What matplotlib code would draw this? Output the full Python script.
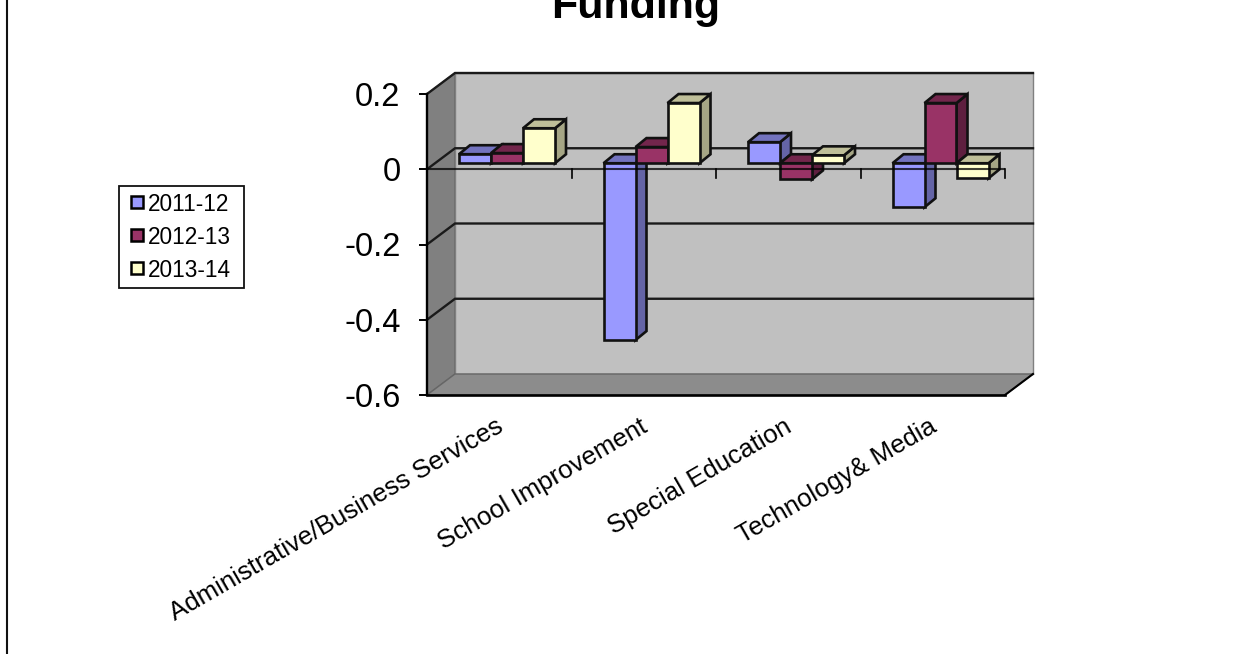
# Funding change by department, drawn as a pseudo-3D clustered column chart
import matplotlib
matplotlib.use("Agg")
import numpy as np
from matplotlib import pyplot as plt
from matplotlib.patches import Polygon, Rectangle

plt.rcParams['font.family'] = ['Liberation Sans', 'DejaVu Sans']

categories = ["Administrative/Business Services", "School Improvement",
              "Special Education", "Technology& Media"]
series = ["2011-12", "2012-13", "2013-14"]
val_2011 = [0.024, -0.47, 0.056, -0.117]
val_2012 = [0.027, 0.043, -0.043, 0.16]
val_2013 = [0.093, 0.16, 0.021, -0.04]
y_ticks = [0.2, 0, -0.2, -0.4, -0.6]
y_labels = ["0.2", "0", "-0.2", "-0.4", "-0.6"]

front_cols = ["#9999ff", "#993366", "#ffffcc"]
top_cols = ["#7373bf", "#73264c", "#bfbf99"]
side_cols = ["#6464a6", "#5e1f3f", "#a6a685"]

W, H = 1254, 654
fig = plt.figure(figsize=(W / 100, H / 100), dpi=100)

# axes box in pixels: x 427-1005, y 94-395
ax = fig.add_axes([427 / W, 1 - 395 / H, 578 / W, 301 / H])
ax.set_xlim(0, 4)
ax.set_ylim(-0.6, 0.2)
ax.patch.set_alpha(0)
for s in ax.spines.values():
    s.set_visible(False)

# one data unit in pixels, used to turn depth offsets into data units
px_x = 578 / 4
px_y = 301 / 0.8
dep_x = 28 / px_x
dep_y = 21 / px_y


def poly(pts, fc, ec="#111111", lw=1.9, z=1):
    ax.add_patch(Polygon(pts, closed=True, facecolor=fc, edgecolor=ec,
                         linewidth=lw, zorder=z, clip_on=False, joinstyle="miter"))


# walls and floor
poly([(0, -0.6), (dep_x, -0.6 + dep_y), (dep_x, 0.2 + dep_y), (0, 0.2)], "#808080", ec="#666666", lw=1)
poly([(dep_x, -0.6 + dep_y), (4 + dep_x, -0.6 + dep_y), (4 + dep_x, 0.2 + dep_y), (dep_x, 0.2 + dep_y)],
     "#c0c0c0", ec="#808080", lw=1)
poly([(0, -0.6), (4, -0.6), (4 + dep_x, -0.6 + dep_y), (dep_x, -0.6 + dep_y)], "#8c8c8c", ec="#666666", lw=1)

# gridlines on the back and side walls, the top one closes the walls
for t in y_ticks[:-1]:
    ax.plot([0, dep_x, 4 + dep_x], [t, t + dep_y, t + dep_y], color="#1a1a1a", lw=1.7, zorder=2,
            clip_on=False, solid_joinstyle="miter")

# columns
gap = 24 / px_x
bw = 32 / px_x
off_x = 8 / px_x
off_y = 6 / px_y
d_x = 11 / px_x
d_y = 9 / px_y
z = 3
for i in range(len(categories)):
    for k, vals in enumerate([val_2011, val_2012, val_2013]):
        x0 = i + gap + off_x + k * bw
        x1 = x0 + bw
        y0 = off_y
        y1 = vals[i] + off_y
        hi = max(y0, y1)
        lo = min(y0, y1)
        poly([(x1, lo), (x1 + d_x, lo + d_y), (x1 + d_x, hi + d_y), (x1, hi)], side_cols[k], z=z)
        poly([(x0, hi), (x1, hi), (x1 + d_x, hi + d_y), (x0 + d_x, hi + d_y)], top_cols[k], z=z)
        poly([(x0, lo), (x1, lo), (x1, hi), (x0, hi)], front_cols[k], z=z)
        z += 1

# category axis at zero sits over the columns
ax.axhline(0, color="black", lw=1.5, alpha=0.75, zorder=50)
ax.set_xticks(range(1, 5))
ax.set_xticklabels([])
ax.tick_params(axis="x", length=0)
for t in range(1, 5):
    ax.plot([t, t], [0, -9 / px_y], color="black", lw=1.2, zorder=50, clip_on=False)

ax.plot([0, 0], [-0.6, 0.2], color="black", lw=1.7, zorder=51, clip_on=False)
ax.plot([0, 4], [-0.6, -0.6], color="black", lw=1.9, zorder=51, clip_on=False)
ax.plot([4, 4 + dep_x], [-0.6, -0.6 + dep_y], color="black", lw=1.5, zorder=51, clip_on=False)

ax.set_yticks(y_ticks)
ax.set_yticklabels(y_labels, fontsize=23.5)
ax.tick_params(axis="y", length=6, width=1.4, pad=13)

# slanted category labels end just below their group
for i, c in enumerate(categories):
    ax.annotate(c, xy=(i + 0.5, -0.6), xytext=(-3, -14), textcoords="offset points",
                rotation=30, rotation_mode="anchor", ha="right", va="top", fontsize=18.6)

fig.text(636 / W, 1 - 18 / H, "Funding", ha="center", va="baseline", fontsize=31, fontweight="bold")

# chart frame edge on the left
fig.add_artist(plt.Line2D([7 / W, 7 / W], [0, 1], color="#111111", lw=1.5))

# legend box drawn by hand, row spacing is tighter than fig.legend gives
fig.add_artist(Rectangle((119 / W, 1 - 288 / H), 125 / W, 102 / H, transform=fig.transFigure,
                         facecolor="white", edgecolor="#111111", lw=1.3))
for k, name in enumerate(series):
    row = 202 + 33 * k
    fig.add_artist(Rectangle((131 / W, 1 - (row + 6) / H), 12 / W, 12 / H, transform=fig.transFigure,
                             facecolor=front_cols[k], edgecolor="black", lw=1.8))
    fig.text(148 / W, 1 - row / H, name, ha="left", va="center_baseline", fontsize=16.3)

fig.savefig("out.png", dpi=100)
